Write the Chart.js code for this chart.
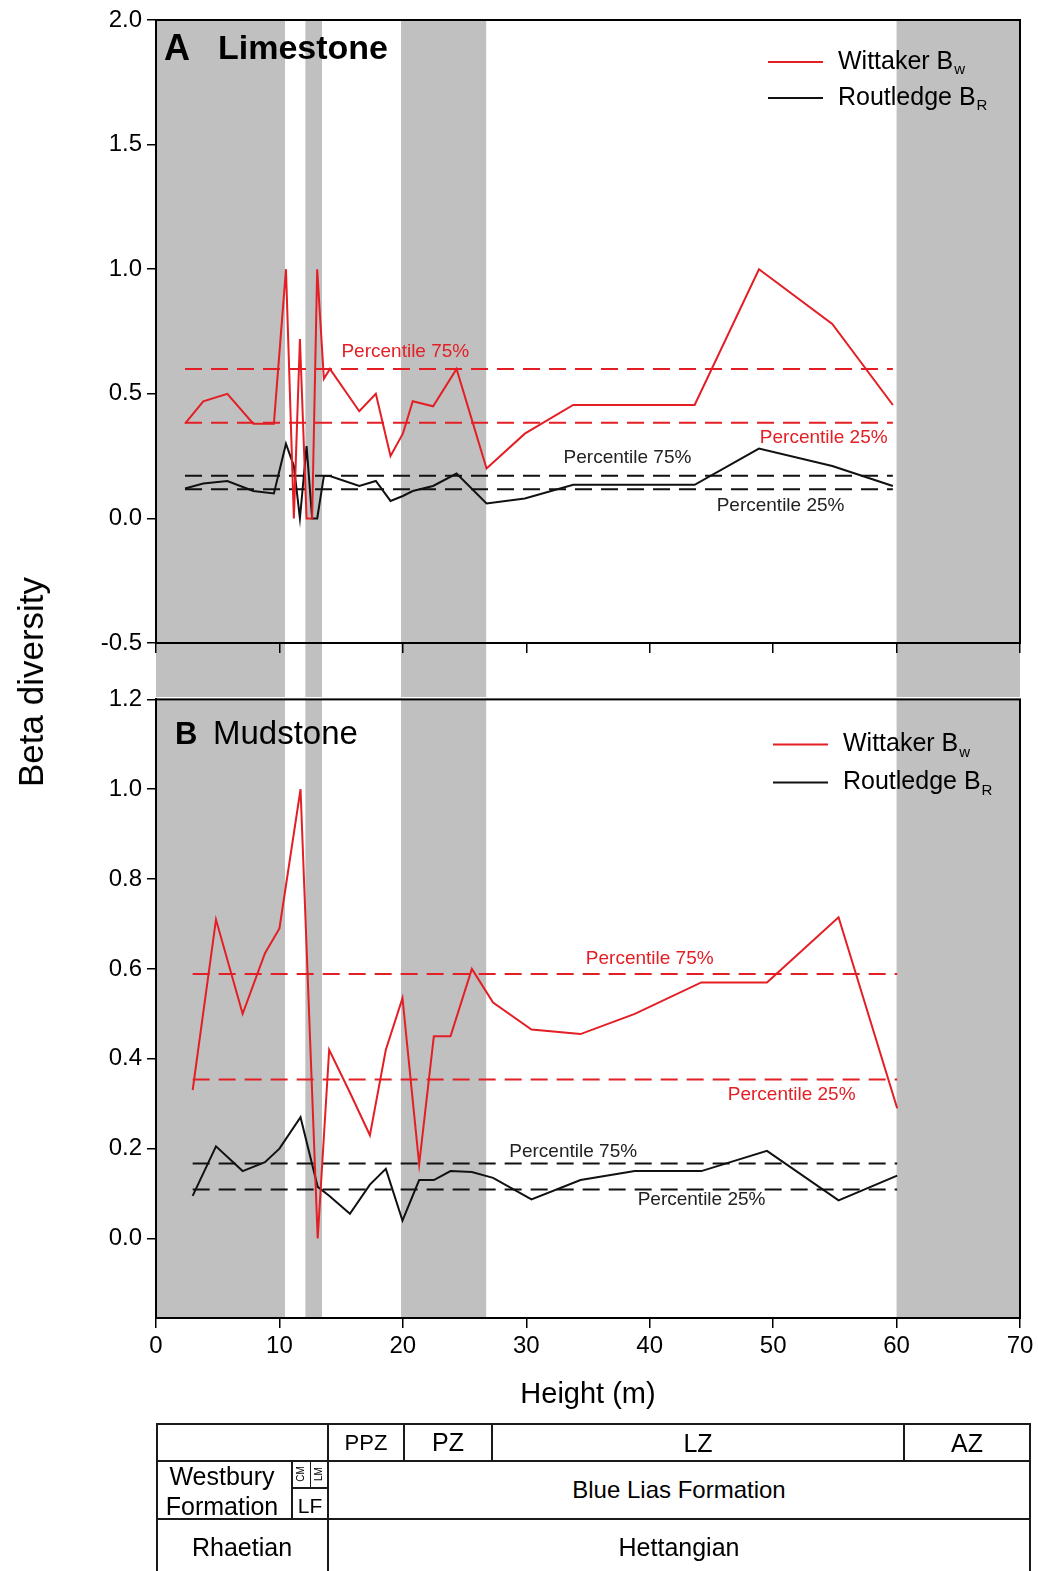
<!DOCTYPE html>
<html>
<head>
<meta charset="utf-8">
<script src="https://cdn.jsdelivr.net/npm/chart.js@4.4.1/dist/chart.umd.min.js"></script>
<style>
body { margin: 0; background: #fff; }
#page { position: relative; width: 1038px; height: 1571px; overflow: hidden; font-family: "Liberation Sans", Arial, sans-serif; color: #000; }
canvas { position: absolute; left: 0; }
#cTop { top: 0; }
#cBot { top: 680px; }
.ytitle { position: absolute; left: 31px; top: 682px; transform: translate(-50%, -50%) rotate(-90deg); font-size: 35px; white-space: nowrap; }
.ln { position: absolute; background: #1a1a1a; }
.txt { position: absolute; transform: translate(-50%, -50%); white-space: nowrap; font-size: 24px; line-height: 1; }
</style>
</head>
<body>
<div id="page">
  <canvas id="cTop" width="1038" height="700"></canvas>
  <canvas id="cBot" width="1038" height="740"></canvas>
  <div class="ytitle">Beta diversity</div>
  <div id="tabla"></div>
</div>
<script>
// Bandas grises (altura en m)
const bandStart = [0, 12.1, 19.85, 60];
const bandEnd = [10.45, 13.45, 26.75, 70];

// Panel A: Limestone
const heightLime = [2.35, 3.83, 5.78, 7.88, 9.55, 10.53, 11.17, 11.66, 12.2, 12.65, 13.06, 13.6, 14.09, 16.47, 17.81, 19.0, 20.0, 20.8, 22.45, 24.35, 26.78, 29.88, 33.8, 43.64, 48.85, 54.79, 59.7];
const wittakerLime = [0.38, 0.47, 0.50, 0.38, 0.38, 1.00, 0.00, 0.72, 0.00, 0.00, 1.00, 0.56, 0.60, 0.43, 0.50, 0.25, 0.34, 0.47, 0.45, 0.60, 0.20, 0.34, 0.455, 0.455, 1.00, 0.78, 0.455];
const routledgeLime = [0.12, 0.14, 0.15, 0.11, 0.10, 0.30, 0.21, 0.00, 0.29, 0.00, 0.00, 0.17, 0.17, 0.13, 0.15, 0.07, 0.09, 0.11, 0.13, 0.18, 0.06, 0.08, 0.135, 0.135, 0.28, 0.21, 0.13];
const pctLime = [0.60, 0.384, 0.171, 0.117]; // W 75, W 25, R 75, R 25
const yTicksLime = [-0.5, 0, 0.5, 1.0, 1.5, 2.0];

// Panel B: Mudstone
const heightMud = [2.97, 4.86, 7.02, 8.83, 10.0, 11.71, 13.1, 14.03, 15.71, 17.33, 18.62, 19.97, 21.32, 22.51, 23.86, 25.59, 27.31, 30.42, 34.39, 38.79, 44.18, 49.5, 55.3, 60.05];
const wittakerMud = [0.33, 0.71, 0.50, 0.635, 0.69, 1.00, 0.00, 0.42, 0.325, 0.23, 0.42, 0.535, 0.165, 0.45, 0.45, 0.60, 0.525, 0.465, 0.455, 0.50, 0.57, 0.57, 0.715, 0.29];
const routledgeMud = [0.095, 0.205, 0.15, 0.17, 0.20, 0.27, 0.115, 0.095, 0.055, 0.12, 0.155, 0.04, 0.13, 0.13, 0.15, 0.148, 0.135, 0.087, 0.13, 0.15, 0.15, 0.195, 0.085, 0.14];
const pctMud = [0.589, 0.354, 0.167, 0.109];
const yTicksMud = [0, 0.2, 0.4, 0.6, 0.8, 1.0, 1.2];

const xTicks = [0, 10, 20, 30, 40, 50, 60, 70];

const RED = '#e31e24';
const BLACK = '#111111';
const FONT = '"Liberation Sans", Arial, sans-serif';

Chart.defaults.font.family = FONT;
Chart.defaults.color = '#000';

function serie(xs, ys) {
    return xs.map((x, i) => ({ x: x, y: ys[i] }));
}

function plana(xs, v) {
    return [{ x: xs[0], y: v }, { x: xs[xs.length - 1], y: v }];
}

// Dibuja las bandas grises detrás de todo
const bandas = {
    id: 'bandas',
    beforeDraw(chart, args, opts) {
        const { ctx, chartArea, scales } = chart;
        ctx.save();
        ctx.fillStyle = '#c0c0c0';
        for (let i = 0; i < bandStart.length; i++) {
            const x0 = scales.x.getPixelForValue(bandStart[i]);
            const x1 = scales.x.getPixelForValue(bandEnd[i]);
            ctx.fillRect(x0, chartArea.top, x1 - x0, chartArea.bottom + (opts.extra || 0) - chartArea.top);
        }
        ctx.restore();
    }
};

// Marco, título del panel, leyenda y etiquetas de percentiles
const adornos = {
    id: 'adornos',
    afterDatasetsDraw(chart, args, opts) {
        const { ctx, scales } = chart;
        ctx.save();
        ctx.textBaseline = 'middle';
        ctx.textAlign = 'center';
        ctx.font = '19px ' + FONT;
        opts.notes.forEach(n => {
            ctx.fillStyle = n.color;
            ctx.fillText(n.text, scales.x.getPixelForValue(n.x), scales.y.getPixelForValue(n.y));
        });
        ctx.restore();
    },
    afterDraw(chart, args, opts) {
        const { ctx, chartArea } = chart;
        ctx.save();
        ctx.strokeStyle = '#000';
        ctx.lineWidth = 2;
        ctx.strokeRect(chartArea.left, chartArea.top, chartArea.right - chartArea.left, chartArea.bottom - chartArea.top);

        // título
        ctx.fillStyle = '#000';
        ctx.textBaseline = 'middle';
        ctx.textAlign = 'left';
        ctx.font = opts.title.letterFont;
        ctx.fillText(opts.title.letter, chartArea.left + opts.title.dx, chartArea.top + opts.title.dy);
        ctx.font = opts.title.nameFont;
        ctx.fillText(opts.title.name, chartArea.left + opts.title.dx2, chartArea.top + opts.title.dy);

        // leyenda
        const lg = opts.legend;
        const filas = [
            { color: RED, main: 'Wittaker B', sub: 'w' },
            { color: BLACK, main: 'Routledge B', sub: 'R' }
        ];
        filas.forEach((f, i) => {
            const y = chartArea.top + lg.dy + i * lg.gap;
            ctx.strokeStyle = f.color;
            ctx.lineWidth = 2;
            ctx.beginPath();
            ctx.moveTo(chartArea.left + lg.dx, y);
            ctx.lineTo(chartArea.left + lg.dx + 55, y);
            ctx.stroke();
            ctx.fillStyle = '#000';
            ctx.font = '25px ' + FONT;
            const tx = chartArea.left + lg.dx + 70;
            ctx.fillText(f.main, tx, y);
            const w = ctx.measureText(f.main).width;
            ctx.font = '15px ' + FONT;
            ctx.fillText(f.sub, tx + w + 1, y + 8);
        });
        ctx.restore();
    }
};

function crearPanel(id, p) {
    const ctx = document.getElementById(id).getContext('2d');
    const datasets = [
        { data: serie(p.xs, p.w), borderColor: RED, borderWidth: 2 },
        { data: serie(p.xs, p.r), borderColor: BLACK, borderWidth: 2 },
        { data: plana(p.xs, p.pct[0]), borderColor: RED, borderWidth: 2, borderDash: [17, 9] },
        { data: plana(p.xs, p.pct[1]), borderColor: RED, borderWidth: 2, borderDash: [17, 9] },
        { data: plana(p.xs, p.pct[2]), borderColor: BLACK, borderWidth: 2, borderDash: [17, 9] },
        { data: plana(p.xs, p.pct[3]), borderColor: BLACK, borderWidth: 2, borderDash: [17, 9] }
    ];
    datasets.forEach(d => { d.pointRadius = 0; d.tension = 0; d.fill = false; });

    return new Chart(ctx, {
        type: 'line',
        data: { datasets: datasets },
        options: {
            responsive: false,
            animation: false,
            devicePixelRatio: 1,
            layout: { padding: { left: 96, right: 18, top: p.padTop, bottom: 0 } },
            plugins: {
                legend: { display: false },
                tooltip: { enabled: false },
                bandas: { extra: p.bandExtra },
                adornos: { notes: p.notes, title: p.title, legend: p.legend }
            },
            scales: {
                x: {
                    type: 'linear', min: 0, max: 70,
                    afterBuildTicks: s => { s.ticks = xTicks.map(v => ({ value: v })); },
                    afterFit: s => { s.height = p.xHeight; },
                    grid: { drawOnChartArea: false, tickLength: 10, color: '#000', lineWidth: 1.5 },
                    border: { color: '#000', width: 2 },
                    ticks: {
                        padding: 4,
                        font: { size: 24 },
                        callback: v => p.xLabels ? String(v) : ''
                    },
                    title: p.xLabels ? { display: true, text: 'Height (m)', font: { size: 29 }, padding: { top: 0, bottom: 8 } } : { display: false }
                },
                y: {
                    min: p.ymin, max: p.ymax,
                    afterBuildTicks: s => { s.ticks = p.yTicks.map(v => ({ value: v })); },
                    afterFit: s => { s.width = 60; },
                    grid: { drawOnChartArea: false, tickLength: 9, color: '#000', lineWidth: 1.5 },
                    border: { color: '#000', width: 2 },
                    ticks: { padding: 5, font: { size: 24 }, callback: v => Number(v).toFixed(1) }
                }
            }
        },
        plugins: [bandas, adornos]
    });
}

crearPanel('cTop', {
    xs: heightLime, w: wittakerLime, r: routledgeLime, pct: pctLime,
    ymin: -0.5, ymax: 2.0, yTicks: yTicksLime,
    padTop: 20, xHeight: 57, bandExtra: 54, xLabels: false,
    notes: [
        { text: 'Percentile 75%', x: 20.2, y: 0.669, color: RED },
        { text: 'Percentile 25%', x: 54.1, y: 0.323, color: RED },
        { text: 'Percentile 75%', x: 38.2, y: 0.242, color: '#222' },
        { text: 'Percentile 25%', x: 50.6, y: 0.051, color: '#222' }
    ],
    title: { letter: 'A', name: 'Limestone', letterFont: 'bold 36px ' + FONT, nameFont: 'bold 34px ' + FONT, dx: 8, dx2: 62, dy: 30 },
    legend: { dx: 612, dy: 42, gap: 36 }
});

crearPanel('cBot', {
    xs: heightMud, w: wittakerMud, r: routledgeMud, pct: pctMud,
    ymin: -0.177, ymax: 1.2, yTicks: yTicksMud,
    padTop: 17, xHeight: 102, bandExtra: 0, xLabels: true,
    notes: [
        { text: 'Percentile 75%', x: 40.0, y: 0.623, color: RED },
        { text: 'Percentile 25%', x: 51.5, y: 0.321, color: RED },
        { text: 'Percentile 75%', x: 33.8, y: 0.193, color: '#222' },
        { text: 'Percentile 25%', x: 44.2, y: 0.086, color: '#222' }
    ],
    title: { letter: 'B', name: 'Mudstone', letterFont: 'bold 31px ' + FONT, nameFont: '33px ' + FONT, dx: 19, dx2: 57, dy: 36 },
    legend: { dx: 617, dy: 45, gap: 38 }
});

// Tabla estratigráfica bajo el eje
const tabla = document.getElementById('tabla');
function linea(x, y, w, h) {
    const d = document.createElement('div');
    d.className = 'ln';
    d.style.left = x + 'px'; d.style.top = y + 'px';
    d.style.width = w + 'px'; d.style.height = h + 'px';
    tabla.appendChild(d);
}
function texto(t, x, y, size, rot) {
    const d = document.createElement('div');
    d.className = 'txt';
    d.textContent = t;
    d.style.left = x + 'px'; d.style.top = y + 'px';
    d.style.fontSize = size + 'px';
    if (rot) d.style.transform = 'translate(-50%, -50%) rotate(-90deg)';
    tabla.appendChild(d);
}
linea(157, 1423, 874, 2);
linea(157, 1460, 874, 2);
linea(157, 1518, 874, 2);
linea(292, 1487, 36, 1.5);
linea(156, 1423, 2, 150);
linea(1029, 1423, 2, 150);
linea(327, 1423, 2, 150);
linea(403, 1423, 1.5, 38);
linea(491, 1423, 1.5, 38);
linea(903, 1423, 1.5, 38);
linea(291, 1460, 1.5, 59);
linea(310, 1460, 1, 28);

texto('PPZ', 366, 1443, 22);
texto('PZ', 448, 1442, 25);
texto('LZ', 698, 1443, 25);
texto('AZ', 967, 1443, 25);
texto('Westbury', 222, 1476, 25);
texto('Formation', 222, 1506, 25);
texto('CM', 301, 1474, 10, true);
texto('LM', 319, 1474, 10, true);
texto('LF', 310, 1505, 21);
texto('Blue Lias Formation', 679, 1490, 24);
texto('Rhaetian', 242, 1547, 25);
texto('Hettangian', 679, 1547, 25);
</script>
</body>
</html>
